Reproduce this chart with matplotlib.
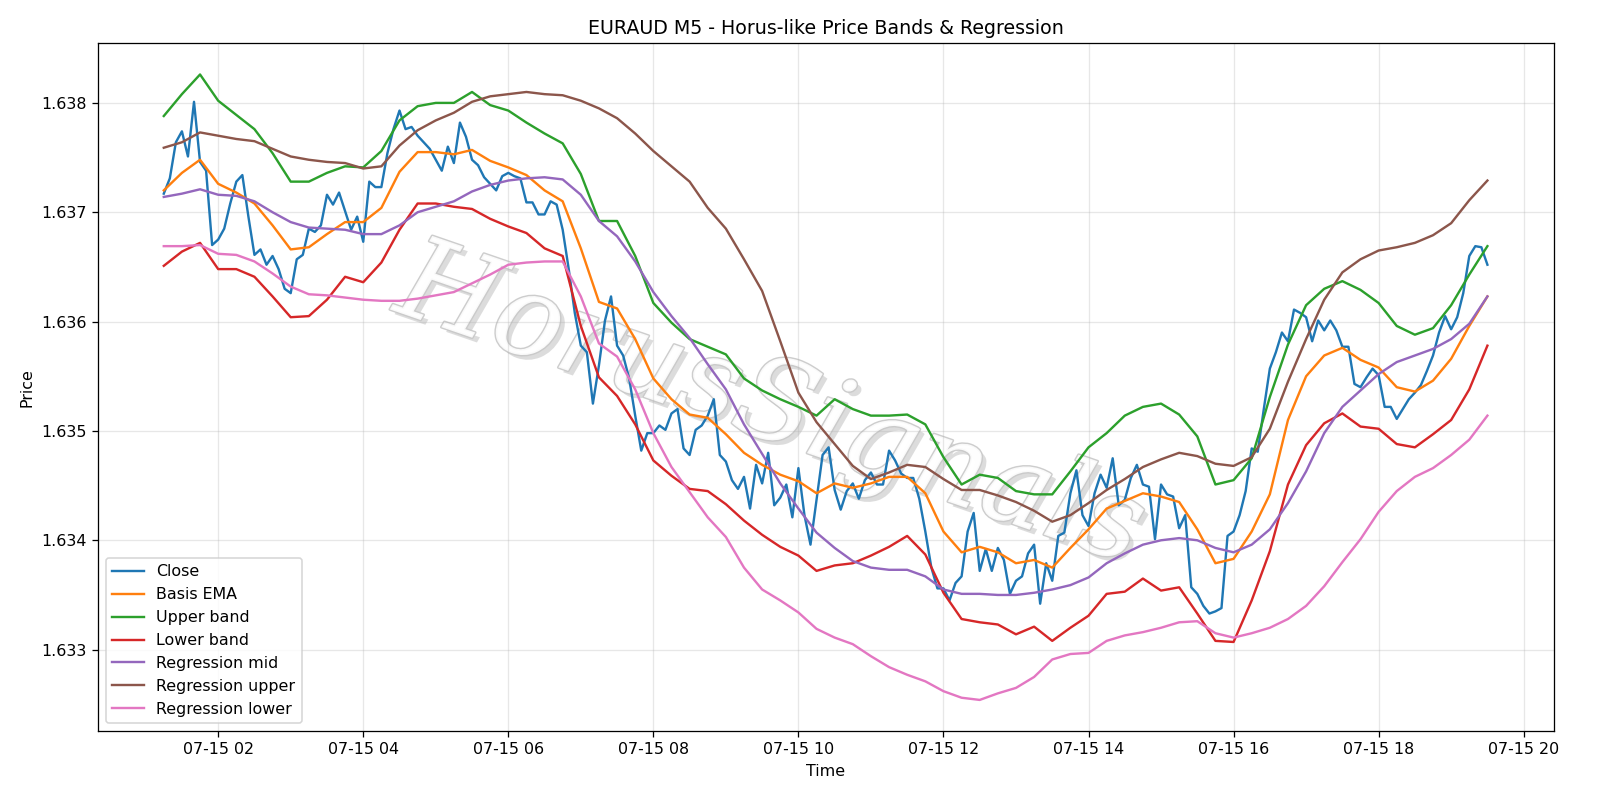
import numpy as np
import pandas as pd
import matplotlib
matplotlib.use("Agg")
import matplotlib.pyplot as plt
import matplotlib.dates as mdates
import matplotlib.patheffects as pe

# 5-minute closes, 07-15 01:15 -> 19:30
close = [
    1.63717, 1.63731, 1.63764, 1.63774, 1.63751, 1.63801, 1.63746, 1.63738, 1.63670, 1.63675,
    1.63685, 1.63708, 1.63728, 1.63734, 1.63696, 1.63661, 1.63666, 1.63652, 1.63660, 1.63648,
    1.63630, 1.63626, 1.63657, 1.63661, 1.63685, 1.63682, 1.63688, 1.63716, 1.63707, 1.63718,
    1.63701, 1.63684, 1.63696, 1.63673, 1.63728, 1.63723, 1.63723, 1.63754, 1.63776, 1.63793,
    1.63776, 1.63778, 1.63770, 1.63764, 1.63758, 1.63748, 1.63738, 1.63760, 1.63745, 1.63782,
    1.63769, 1.63748, 1.63743, 1.63732, 1.63726, 1.63720, 1.63733, 1.63736, 1.63733, 1.63731,
    1.63709, 1.63709, 1.63698, 1.63698, 1.63710, 1.63707, 1.63684, 1.63648, 1.63608, 1.63578,
    1.63572, 1.63525, 1.63560, 1.63601, 1.63623, 1.63578, 1.63569, 1.63548, 1.63514, 1.63482,
    1.63498, 1.63498, 1.63505, 1.63501, 1.63516, 1.63520, 1.63484, 1.63478, 1.63501, 1.63505,
    1.63514, 1.63529, 1.63478, 1.63472, 1.63455, 1.63447, 1.63458, 1.63429, 1.63469, 1.63452,
    1.63480, 1.63432, 1.63439, 1.63451, 1.63421, 1.63466, 1.63423, 1.63396, 1.63437, 1.63478,
    1.63485, 1.63446, 1.63428, 1.63445, 1.63452, 1.63438, 1.63455, 1.63462, 1.63451, 1.63451,
    1.63482, 1.63473, 1.63461, 1.63457, 1.63457, 1.63438, 1.63408, 1.63375, 1.63356, 1.63356,
    1.63345, 1.63361, 1.63367, 1.63408, 1.63425, 1.63372, 1.63392, 1.63372, 1.63393, 1.63382,
    1.63351, 1.63363, 1.63367, 1.63388, 1.63396, 1.63342, 1.63379, 1.63363, 1.63404, 1.63407,
    1.63443, 1.63464, 1.63423, 1.63413, 1.63443, 1.63460, 1.63448, 1.63475, 1.63432, 1.63437,
    1.63457, 1.63469, 1.63451, 1.63449, 1.63401, 1.63451, 1.63442, 1.63440, 1.63411, 1.63423,
    1.63357, 1.63351, 1.63340, 1.63333, 1.63335, 1.63338, 1.63404, 1.63408, 1.63423, 1.63445,
    1.63484, 1.63481, 1.63520, 1.63557, 1.63572, 1.63590, 1.63582, 1.63611, 1.63608, 1.63604,
    1.63582, 1.63601, 1.63592, 1.63601, 1.63592, 1.63577, 1.63577, 1.63543, 1.63540, 1.63549,
    1.63557, 1.63551, 1.63522, 1.63522, 1.63511, 1.63520, 1.63529, 1.63535, 1.63542, 1.63555,
    1.63569, 1.63590, 1.63605, 1.63593, 1.63604, 1.63626, 1.63660, 1.63669, 1.63668, 1.63652,
]

# bands and regression channel, read every 15 minutes
basis = [
    1.63720, 1.63736, 1.63748, 1.63726, 1.63718, 1.63708, 1.63688, 1.63666, 1.63668, 1.63680,
    1.63691, 1.63691, 1.63704, 1.63737, 1.63755, 1.63755, 1.63753, 1.63757, 1.63747, 1.63741,
    1.63734, 1.63720, 1.63710, 1.63667, 1.63618, 1.63612, 1.63584, 1.63548, 1.63529, 1.63515,
    1.63512, 1.63497, 1.63480, 1.63469, 1.63460, 1.63454, 1.63443, 1.63452, 1.63448, 1.63452,
    1.63458, 1.63458, 1.63443, 1.63408, 1.63389, 1.63394, 1.63389, 1.63379, 1.63382, 1.63375,
    1.63393, 1.63410, 1.63429, 1.63436, 1.63443, 1.63440, 1.63435, 1.63410, 1.63379, 1.63383,
    1.63408, 1.63442, 1.63510, 1.63550, 1.63569, 1.63576, 1.63565, 1.63558, 1.63540, 1.63536,
    1.63546, 1.63566, 1.63596, 1.63623,
]
upper = [
    1.63788, 1.63808, 1.63826, 1.63802, 1.63789, 1.63776, 1.63754, 1.63728, 1.63728, 1.63736,
    1.63742, 1.63741, 1.63756, 1.63784, 1.63797, 1.63800, 1.63800, 1.63810, 1.63798, 1.63793,
    1.63782, 1.63772, 1.63763, 1.63735, 1.63692, 1.63692, 1.63660, 1.63617, 1.63599, 1.63584,
    1.63577, 1.63570, 1.63548, 1.63537, 1.63529, 1.63522, 1.63514, 1.63529, 1.63520, 1.63514,
    1.63514, 1.63515, 1.63506, 1.63476, 1.63451, 1.63460, 1.63457, 1.63445, 1.63442, 1.63442,
    1.63463, 1.63485, 1.63498, 1.63514, 1.63522, 1.63525, 1.63515, 1.63495, 1.63451, 1.63455,
    1.63475, 1.63531, 1.63579, 1.63615, 1.63630, 1.63637, 1.63629, 1.63617, 1.63596, 1.63588,
    1.63594, 1.63615, 1.63643, 1.63669,
]
lower = [
    1.63651, 1.63664, 1.63672, 1.63648, 1.63648, 1.63641, 1.63623, 1.63604, 1.63605, 1.63620,
    1.63641, 1.63636, 1.63654, 1.63684, 1.63708, 1.63708, 1.63705, 1.63703, 1.63694, 1.63687,
    1.63681, 1.63667, 1.63660, 1.63596, 1.63549, 1.63532, 1.63506, 1.63473, 1.63459, 1.63447,
    1.63445, 1.63433, 1.63418, 1.63405, 1.63394, 1.63386, 1.63372, 1.63377, 1.63379, 1.63386,
    1.63394, 1.63404, 1.63387, 1.63352, 1.63328, 1.63325, 1.63323, 1.63314, 1.63321, 1.63308,
    1.63320, 1.63331, 1.63351, 1.63353, 1.63365, 1.63354, 1.63357, 1.63333, 1.63308, 1.63307,
    1.63345, 1.63390, 1.63451, 1.63487, 1.63507, 1.63516, 1.63504, 1.63502, 1.63488, 1.63485,
    1.63497, 1.63510, 1.63538, 1.63578,
]
reg_mid = [
    1.63714, 1.63717, 1.63721, 1.63716, 1.63715, 1.63710, 1.63700, 1.63691, 1.63686, 1.63685,
    1.63684, 1.63680, 1.63680, 1.63688, 1.63700, 1.63705, 1.63710, 1.63719, 1.63725, 1.63729,
    1.63731, 1.63732, 1.63730, 1.63716, 1.63692, 1.63678, 1.63655, 1.63627, 1.63605, 1.63585,
    1.63561, 1.63538, 1.63506, 1.63479, 1.63452, 1.63429, 1.63407, 1.63393, 1.63381, 1.63375,
    1.63373, 1.63373, 1.63367, 1.63355, 1.63351, 1.63351, 1.63350, 1.63350, 1.63352, 1.63355,
    1.63359, 1.63366, 1.63379, 1.63388, 1.63396, 1.63400, 1.63402, 1.63400, 1.63393, 1.63389,
    1.63396, 1.63410, 1.63434, 1.63463, 1.63498, 1.63522, 1.63537, 1.63552, 1.63563, 1.63569,
    1.63575, 1.63584, 1.63598, 1.63623,
]
reg_upper = [
    1.63759, 1.63764, 1.63773, 1.63770, 1.63767, 1.63765, 1.63758, 1.63751, 1.63748, 1.63746,
    1.63745, 1.63740, 1.63742, 1.63761, 1.63775, 1.63784, 1.63791, 1.63801, 1.63806, 1.63808,
    1.63810, 1.63808, 1.63807, 1.63802, 1.63795, 1.63786, 1.63772, 1.63756, 1.63742, 1.63728,
    1.63704, 1.63685, 1.63657, 1.63628, 1.63582, 1.63535, 1.63508, 1.63488, 1.63468, 1.63456,
    1.63462, 1.63469, 1.63467, 1.63456, 1.63446, 1.63446, 1.63441, 1.63435, 1.63427, 1.63417,
    1.63423, 1.63434, 1.63446, 1.63456, 1.63467, 1.63474, 1.63480, 1.63477, 1.63470, 1.63468,
    1.63476, 1.63502, 1.63545, 1.63584, 1.63620, 1.63645, 1.63657, 1.63665, 1.63668, 1.63672,
    1.63679, 1.63690, 1.63711, 1.63729,
]
reg_lower = [
    1.63669, 1.63669, 1.63670, 1.63662, 1.63661, 1.63655, 1.63644, 1.63632, 1.63625, 1.63624,
    1.63622, 1.63620, 1.63619, 1.63619, 1.63621, 1.63624, 1.63627, 1.63635, 1.63643, 1.63652,
    1.63654, 1.63655, 1.63655, 1.63623, 1.63580, 1.63568, 1.63538, 1.63498, 1.63467, 1.63444,
    1.63421, 1.63403, 1.63375, 1.63355, 1.63345, 1.63334, 1.63319, 1.63311, 1.63305, 1.63294,
    1.63284, 1.63277, 1.63271, 1.63262, 1.63256, 1.63254, 1.63260, 1.63265, 1.63275, 1.63291,
    1.63296, 1.63297, 1.63308, 1.63313, 1.63316, 1.63320, 1.63325, 1.63326, 1.63315, 1.63311,
    1.63315, 1.63320, 1.63328, 1.63340, 1.63358, 1.63380, 1.63401, 1.63426, 1.63445, 1.63458,
    1.63466, 1.63478, 1.63492, 1.63514,
]

t_close = pd.date_range("2025-07-15 01:15", periods=len(close), freq="5min")
t_band = pd.date_range("2025-07-15 01:15", periods=len(basis), freq="15min")

DPI = 800 / 7
fig, ax = plt.subplots(figsize=(14, 7), dpi=DPI)
fig.subplots_adjust(left=0.061, right=0.971, top=0.946, bottom=0.086)

# watermark behind the data
ax.text(0.462, 0.47, "HorusSignals", transform=ax.transAxes, fontsize=72,
        family="DejaVu Serif", style="italic", color="white", alpha=0.9,
        rotation=-19, ha="center", va="center", zorder=0,
        path_effects=[pe.withSimplePatchShadow(offset=(3, -3), shadow_rgbFace="#d4d4d4", alpha=0.8),
                      pe.Stroke(linewidth=1.8, foreground="#c8c8c8"), pe.Normal()])

ax.plot(t_close, close, label="Close")
ax.plot(t_band, basis, label="Basis EMA")
ax.plot(t_band, upper, label="Upper band")
ax.plot(t_band, lower, label="Lower band")
ax.plot(t_band, reg_mid, label="Regression mid")
ax.plot(t_band, reg_upper, label="Regression upper")
ax.plot(t_band, reg_lower, label="Regression lower")

ax.set_title("EURAUD M5 - Horus-like Price Bands & Regression")
ax.set_xlabel("Time")
ax.set_ylabel("Price")
ax.grid(True, alpha=0.3)
ax.xaxis.set_major_locator(mdates.HourLocator(interval=2))
ax.xaxis.set_major_formatter(mdates.DateFormatter("%m-%d %H"))
ax.legend(loc="lower left")

fig.savefig("out.png", dpi=DPI)
